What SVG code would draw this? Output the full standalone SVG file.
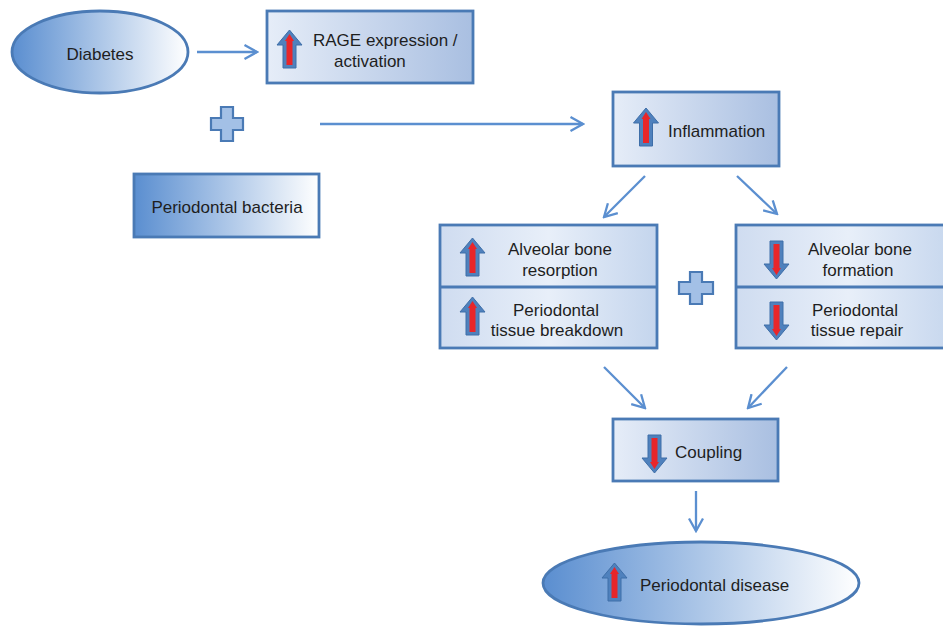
<svg xmlns="http://www.w3.org/2000/svg" xmlns:xlink="http://www.w3.org/1999/xlink" width="943" height="629" viewBox="0 0 943 629">
<style>
text{font-family:"Liberation Sans",Arial,sans-serif;font-size:17px;fill:#1e1e1e}
.c{text-anchor:middle}
.box{stroke:#4a7ab5;stroke-width:2.8}
.conn{stroke:#5b8fd0;stroke-width:2.3;fill:none;marker-end:url(#ah)}
.plus{fill:#a3c0e6;stroke:#4a7ab5;stroke-width:2.2}
</style>
<defs>
<linearGradient id="lg" x1="0" y1="0" x2="1" y2="0">
<stop offset="0" stop-color="#e6edf8"/>
<stop offset="1" stop-color="#a9bfe1"/>
</linearGradient>
<linearGradient id="lg2" x1="0" y1="0" x2="1" y2="0">
<stop offset="0" stop-color="#cfdcf0"/>
<stop offset="0.5" stop-color="#e8eff9"/>
<stop offset="1" stop-color="#c4d5ed"/>
</linearGradient>
<linearGradient id="dg" x1="0" y1="0" x2="1" y2="0">
<stop offset="0" stop-color="#5a8ed0"/>
<stop offset="1" stop-color="#ffffff"/>
</linearGradient>
<marker id="ah" viewBox="-14 -8 16 16" refX="0" refY="0" markerWidth="16" markerHeight="16" markerUnits="userSpaceOnUse" orient="auto">
<path d="M-12.5,-7 L0,0 L-12.5,7" fill="none" stroke="#5b8fd0" stroke-width="2.3"/>
</marker>
<g id="up">
<path d="M0,0 L12.5,15 L6.5,15 L6.5,38 L-6.5,38 L-6.5,15 L-12.5,15 Z" fill="#4f81bd" stroke="#3e6ea8" stroke-width="1"/>
<path d="M0,4 L4.5,11 L3,11 L3,35 L-3,35 L-3,11 L-4.5,11 Z" fill="#e8262a"/>
</g>
<g id="down">
<use xlink:href="#up" transform="scale(1,-1)"/>
</g>
</defs>

<g id="connectors">
<line class="conn" x1="197" y1="52" x2="257" y2="52"/>
<line class="conn" x1="320" y1="124" x2="583" y2="124"/>
<line class="conn" x1="645" y1="176" x2="604" y2="217"/>
<line class="conn" x1="737" y1="176" x2="777" y2="214"/>
<line class="conn" x1="604" y1="367" x2="645" y2="408"/>
<line class="conn" x1="787" y1="367" x2="748" y2="408"/>
<line class="conn" x1="696" y1="491" x2="696" y2="531"/>
</g>

<g id="diabetes">
<ellipse cx="100" cy="52" rx="88" ry="41" fill="url(#dg)" class="box"/>
<text class="c" x="100" y="60">Diabetes</text>
</g>

<g id="rage">
<rect x="267" y="11" width="206" height="72" fill="url(#lg)" class="box"/>
<use xlink:href="#up" x="289.5" y="30"/>
<text x="313" y="46">RAGE expression /</text>
<text x="334" y="67">activation</text>
</g>

<g id="plus1">
<path class="plus" d="M221,107 h12 v11 h10 v12 h-10 v11 h-12 v-11 h-10 v-12 h10 Z"/>
</g>

<g id="bacteria">
<rect x="134" y="174" width="185" height="63" fill="url(#dg)" class="box"/>
<text class="c" x="227" y="213">Periodontal bacteria</text>
</g>

<g id="inflammation">
<rect x="613" y="92" width="166" height="74" fill="url(#lg)" class="box"/>
<use xlink:href="#up" x="646" y="108"/>
<text x="668" y="137">Inflammation</text>
</g>

<g id="resorption">
<rect x="440" y="225" width="217" height="123" fill="url(#lg2)" class="box"/>
<line x1="440" y1="287" x2="657" y2="287" class="box"/>
<use xlink:href="#up" x="472.5" y="238"/>
<use xlink:href="#up" x="472.5" y="297"/>
<text class="c" x="560" y="255">Alveolar bone</text>
<text class="c" x="560" y="276">resorption</text>
<text class="c" x="556" y="316">Periodontal</text>
<text class="c" x="557" y="336">tissue breakdown</text>
</g>

<g id="plus2">
<path class="plus" d="M690,272 h12 v10 h11 v12 h-11 v10 h-12 v-10 h-11 v-12 h11 Z"/>
</g>

<g id="formation">
<rect x="736" y="225" width="224" height="123" fill="url(#lg2)" class="box"/>
<line x1="736" y1="287" x2="960" y2="287" class="box"/>
<use xlink:href="#down" x="776.5" y="279"/>
<use xlink:href="#down" x="776.5" y="340"/>
<text class="c" x="860" y="255">Alveolar bone</text>
<text class="c" x="858" y="276">formation</text>
<text class="c" x="855" y="316">Periodontal</text>
<text class="c" x="857" y="336">tissue repair</text>
</g>

<g id="coupling">
<rect x="613" y="419" width="165" height="62" fill="url(#lg)" class="box"/>
<use xlink:href="#down" x="654.5" y="473"/>
<text x="675" y="458">Coupling</text>
</g>

<g id="disease">
<ellipse cx="701" cy="583" rx="158" ry="41" fill="url(#dg)" class="box"/>
<use xlink:href="#up" x="614.5" y="563"/>
<text x="640" y="591">Periodontal disease</text>
</g>
</svg>
